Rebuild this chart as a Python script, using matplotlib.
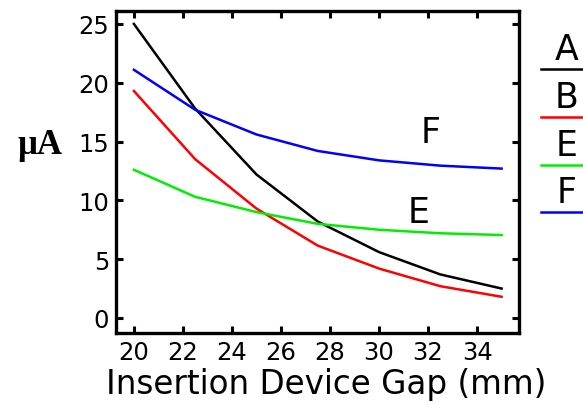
import matplotlib
matplotlib.use("Agg")
import matplotlib.pyplot as plt
from matplotlib.lines import Line2D

# beam current vs insertion device gap
gap_mm = [20, 22.5, 25, 27.5, 30, 32.5, 35]
curve_a = [25.0, 17.8, 12.2, 8.2, 5.6, 3.7, 2.5]
curve_b = [19.3, 13.5, 9.3, 6.15, 4.2, 2.7, 1.8]
curve_e = [12.6, 10.3, 9.0, 8.0, 7.5, 7.2, 7.05]
curve_f = [21.1, 17.7, 15.6, 14.2, 13.4, 12.95, 12.7]

names = ["A", "B", "E", "F"]
colors = ["black", "red", "#00ee00", "blue"]
series = [curve_a, curve_b, curve_e, curve_f]

x_ticks = [20, 22, 24, 26, 28, 30, 32, 34]
y_ticks = [0, 5, 10, 15, 20, 25]

fig = plt.figure(figsize=(5.83, 4.06), dpi=100)
ax = fig.add_axes([116 / 583, 1 - 334 / 406, (519 - 116) / 583, (334 - 12) / 406])

for vals, col in zip(series, colors):
    ax.plot(gap_mm, vals, color=col, lw=1.8)

ax.set_xlim(19.27, 35.71)
ax.set_ylim(-1.28, 26.1)
ax.set_xticks(x_ticks)
ax.set_yticks(y_ticks)
ax.tick_params(direction="in", length=5, width=2.2, labelsize=17.5,
               top=True, right=True, labelright=False, labeltop=False, pad=5)
for sp in ax.spines.values():
    sp.set_linewidth(2.4)

ax.set_xlabel("Insertion Device Gap (mm)", fontsize=23.5, va="top")
ax.xaxis.set_label_coords(0.522, -0.105)
fig.text(40 / 583, 1 - 146 / 406, "\u03bcA", family="Liberation Serif",
         weight="bold", fontsize=25, ha="center", va="center")

# in-plot labels for the two flatter curves
ax.text(32.1, 15.8, "F", fontsize=25, ha="center", va="center")
ax.text(31.6, 9.0, "E", fontsize=25, ha="center", va="center")

# key on the right: letter over a coloured rule
key_y = [70, 117.7, 165.7, 213]
for name, col, yk in zip(names, colors, key_y):
    fig.text(567 / 583, 1 - (yk - 20) / 406, name, fontsize=25,
             ha="center", va="center")
    fig.add_artist(Line2D([541 / 583, 1.0], [1 - yk / 406] * 2,
                          color=col, lw=1.8, transform=fig.transFigure))

fig.savefig("out.png", dpi=100)
